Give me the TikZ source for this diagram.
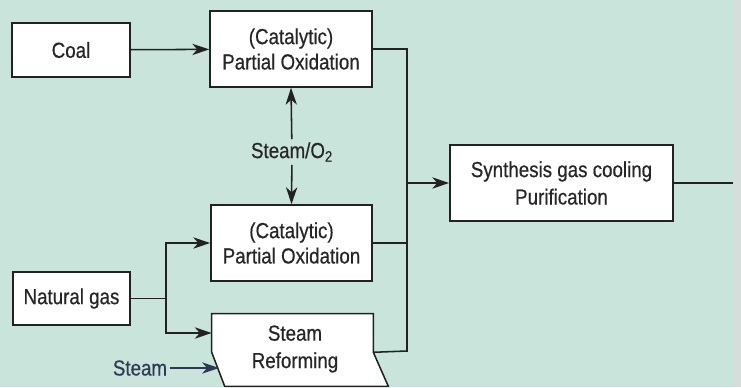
\documentclass[tikz,border=0pt]{standalone}
\usepackage{xcolor}
\usepackage{fontspec}
\setmainfont[FakeStretch=0.86, FakeBold=0.5]{Liberation Sans}
\usetikzlibrary {arrows.meta, positioning, calc}
\definecolor{bgteal}{HTML}{C8E4DB}
\definecolor{edgegrey}{HTML}{D6DEDB}
\definecolor{linec}{HTML}{222222}
\definecolor{textc}{HTML}{262626}
\definecolor{steamc}{HTML}{2E3A55}
\tikzset{
  >={Stealth[length=12pt,width=8pt,inset=3.5pt]}
}

\begin{document}
\begin{tikzpicture}[x=0.025cm, y=-0.025cm,
    font=\fontsize{15.5pt}{18pt}\selectfont,
    line/.style={draw=linec, line width=1.1pt},
    box/.style={line, fill=white, align=center, text=textc, inner sep=0pt},
    inv/.style={inner sep=0pt, draw=none},
    lbl/.style={text=textc, inner sep=2pt}]
    % background
    \fill[bgteal] (0, 0) rectangle (741, 387);
    \fill[edgegrey] (733, 0) rectangle (741, 387);
    \useasboundingbox (0, 0) rectangle (741, 387);
    % 1. coal line
    \node[box, minimum width=2.95cm, minimum height=1.35cm] (coal) at (71, 50) {Coal};
    \node[box, minimum width=4.05cm, minimum height=1.9cm] (pox1) at (291, 49) {(Catalytic)\\Partial Oxidation};
    \draw[line, ->] (coal) -- (pox1);
    % 2. natural gas line
    \node[box, minimum width=4.025cm, minimum height=1.9cm] (pox2) at (291.5, 243) {(Catalytic)\\Partial Oxidation};
    \node[box, minimum width=2.925cm, minimum height=1.325cm] (ngas) at (71.5, 298.5) {Natural gas};
    \node[inv, minimum width=4.025cm, minimum height=0.95cm] (reform) at (292.5, 333) {};
    \filldraw[line, fill=white] (reform.north west) -- (reform.north east) -- (reform.south east)
        -- ++(15, 34) -- ($(reform.south west)+(13, 34)$) -- (reform.south west) -- cycle;
    \node[lbl, align=center, font=\fontsize{15.5pt}{19.5pt}\selectfont] (reformtxt) at (295, 349) {Steam\\Reforming};
    \coordinate (split) at (166, 298.5);
    \draw[line] (ngas) -- (split);
    \draw[line, ->] (split) |- (pox2.west);
    \draw[line, ->] (split) |- (reform.west);
    % 3. steam/oxygen feed
    \node[lbl] (so2) at (292, 152) {Steam/O\textsubscript{2}};
    \draw[line, ->] (so2) -- (pox1.south);
    \draw[line, ->] (so2) -- (pox2.north);
    % steam into reformer
    \node[lbl, text=steamc] (steam) at (140, 368) {Steam};
    \coordinate (steamin) at (219, 368);
    \draw[line, draw=steamc, ->] (steam) -- (steamin);
    % 4. collecting line
    \coordinate (busS) at (407, 351);
    \draw[line] (pox1.east) -| (busS) -- (reform.south east);
    \draw[line] (pox2.east) -- (pox2.east -| busS);
    % 5. synthesis gas
    \node[box, minimum width=5.575cm, minimum height=1.9cm, font=\fontsize{15.5pt}{19.5pt}\selectfont] (synth) at (561.5, 183) {Synthesis gas cooling\\Purification};
    \draw[line, ->] (synth.west -| busS) -- (synth.west);
    \coordinate (out) at (733, 183);
    \draw[line] (synth.east) -- (out);
\end{tikzpicture}
\end{document}
